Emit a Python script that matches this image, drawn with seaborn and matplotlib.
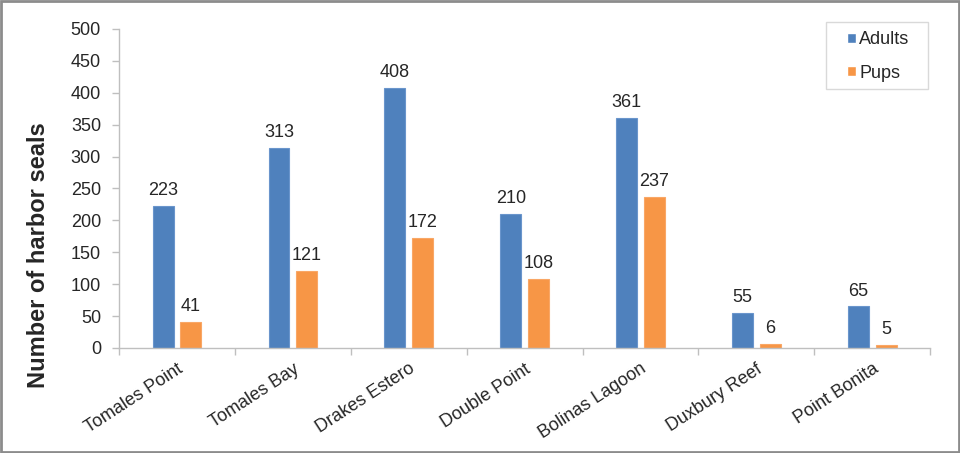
import matplotlib
matplotlib.use("Agg")
import matplotlib.pyplot as plt
import seaborn as sns
import pandas as pd
from matplotlib.patches import Rectangle

sites = ["Tomales Point", "Tomales Bay", "Drakes Estero", "Double Point",
         "Bolinas Lagoon", "Duxbury Reef", "Point Bonita"]
adults = [223, 313, 408, 210, 361, 55, 65]
pups = [41, 121, 172, 108, 237, 6, 5]
y_ticks = list(range(0, 501, 50))

df = pd.DataFrame({
    "site": sites * 2,
    "count": adults + pups,
    "group": ["Adults"] * len(sites) + ["Pups"] * len(sites),
})

sns.set_style("white")
plt.rcParams["font.family"] = ["Liberation Sans", "DejaVu Sans"]

fig = plt.figure(figsize=(9.6, 4.53), dpi=100)
ax = fig.add_axes([0.124, 0.232, 0.845, 0.704])

palette = {"Adults": "#4F81BD", "Pups": "#F79646"}
sns.barplot(data=df, x="site", y="count", hue="group", palette=palette,
            width=0.48, gap=0.25, ax=ax, saturation=1)

edge_cols = ["#6A95CC", "#F9A766"]
for cont, ec in zip(ax.containers, edge_cols):
    for bar in cont:
        bar.set_edgecolor(ec)
        bar.set_linewidth(0.8)
    ax.bar_label(cont, padding=5, fontsize=13)

ax.set_xlim(-0.5, len(sites) - 0.5)
ax.set_ylim(0, 500)
ax.set_yticks(y_ticks)
ax.tick_params(axis="y", labelsize=13, length=5, color="#BFBFBF", width=1, pad=8, left=True)
ax.set_xticks(range(len(sites)))
ax.set_xticklabels(sites, rotation=33, ha="right", rotation_mode="anchor", fontsize=13)
ax.tick_params(axis="x", length=0, pad=9)
ax.set_xticks([i - 0.5 for i in range(len(sites) + 1)], minor=True)
ax.tick_params(axis="x", which="minor", length=5, color="#BFBFBF", width=1, bottom=True)

for side in ["top", "right"]:
    ax.spines[side].set_visible(False)
for side in ["left", "bottom"]:
    ax.spines[side].set_color("#BFBFBF")
    ax.spines[side].set_linewidth(1)

ax.set_xlabel("")
ax.set_ylabel("Number of harbor seals", fontsize=17, fontweight="bold")
ax.yaxis.set_label_coords(-0.0846, 0.29)

# legend: no frame of its own, box drawn separately so padding can be wider than tall
leg = ax.legend(loc="upper left", bbox_to_anchor=(0.8823, 0.931),
                bbox_transform=fig.transFigure, fontsize=13, frameon=False,
                handlelength=0.5, handleheight=0.5, handletextpad=0.17,
                labelspacing=0.91, borderpad=0.0, borderaxespad=0.0)
leg.set_title(None)
fig.patches.append(Rectangle((0.8604, 0.8035), 0.1063, 0.148, transform=fig.transFigure,
                             fill=False, edgecolor="#D9D9D9", linewidth=1))

fig.patches.append(Rectangle((0.001, 0.002), 0.998, 0.996, transform=fig.transFigure,
                             fill=False, edgecolor="#8C8C8C", linewidth=2))

fig.savefig("out.png", dpi=100)
